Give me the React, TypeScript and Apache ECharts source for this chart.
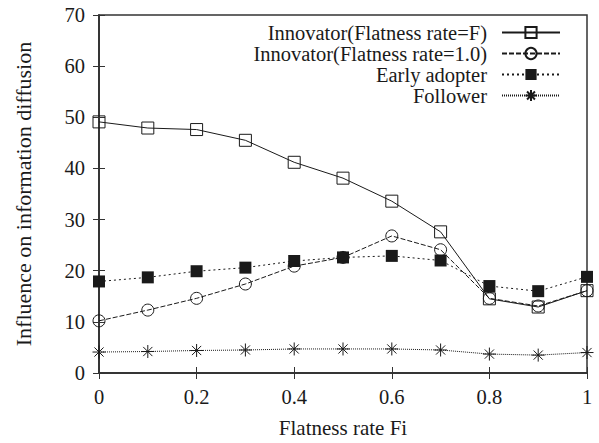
import React, { useEffect, useRef } from "react";
import * as echarts from "echarts";

const xValues = [0, 0.1, 0.2, 0.3, 0.4, 0.5, 0.6, 0.7, 0.8, 0.9, 1.0];
const innovatorF = [49.1, 47.9, 47.6, 45.5, 41.2, 38.1, 33.6, 27.6, 14.5, 12.9, 16.1];
const innovator10 = [10.2, 12.3, 14.6, 17.4, 20.9, 22.6, 26.8, 24.1, 14.6, 13.1, 16.1];
const earlyAdopter = [17.9, 18.7, 19.9, 20.6, 21.9, 22.6, 22.9, 22.0, 17.0, 16.0, 18.8];
const follower = [4.1, 4.2, 4.4, 4.5, 4.7, 4.7, 4.7, 4.5, 3.7, 3.5, 4.0];

const seriesNames = [
  "Innovator(Flatness rate=F)",
  "Innovator(Flatness rate=1.0)",
  "Early adopter",
  "Follower",
];

const FONT = "'Liberation Serif', 'Times New Roman', serif";
const INK = "#1a1a1a";
const ASTERISK = "path://M0,-6L0,6M-6,0L6,0M-4.24,-4.24L4.24,4.24M-4.24,4.24L4.24,-4.24";

function pairs(ys: number[]) {
  return xValues.map((x, i) => [x, ys[i]]);
}

export default function App() {
  const ref = useRef<HTMLDivElement>(null);
  useEffect(() => {
    if (!ref.current) return;
    const chart = echarts.init(ref.current, null, { renderer: "svg" });
    const axisCommon = {
      axisLine: { show: true, lineStyle: { color: "#333", width: 1.5 } },
      axisTick: { show: true, inside: true, length: 6, lineStyle: { color: "#333", width: 1 } },
      splitLine: { show: false },
    };
    const mkLegend = (name: string, top: number) => ({
      show: true,
      data: [name],
      right: 38,
      top,
      padding: 0,
      align: "right" as const,
      orient: "vertical" as const,
      itemWidth: 58,
      itemHeight: 14,
      selectedMode: false,
      formatter: "{t|{name}}{g|}",
      textStyle: {
        fontFamily: FONT,
        fontSize: 20.5,
        color: INK,
        lineHeight: 20,
        rich: {
          t: {
            fontFamily: FONT,
            fontSize: 20.5,
            color: INK,
            lineHeight: 20,
          },
          g: {
            width: 10,
            height: 10,
          },
        },
      },
    });
    chart.setOption({
      animation: false,
      backgroundColor: "#fff",
      textStyle: { fontFamily: FONT },
      grid: {
        left: 99,
        right: 12,
        top: 15,
        bottom: 68,
        show: true,
        borderColor: "#333",
        borderWidth: 1.5,
        backgroundColor: "transparent",
      },
      legend: [
        mkLegend(seriesNames[0], 22),
        mkLegend(seriesNames[1], 43),
        mkLegend(seriesNames[2], 64),
        mkLegend(seriesNames[3], 85),
      ],
      xAxis: [
        {
          type: "value",
          min: 0,
          max: 1,
          interval: 0.2,
          position: "bottom",
          name: "Flatness rate Fi",
          nameLocation: "middle",
          nameGap: 44,
          nameTextStyle: { fontFamily: FONT, fontSize: 21, color: INK },
          axisLabel: { fontFamily: FONT, fontSize: 20.5, color: INK, margin: 13 },
          ...axisCommon,
        },
        {
          type: "value",
          min: 0,
          max: 1,
          interval: 0.2,
          position: "top",
          axisLabel: { show: false },
          ...axisCommon,
        },
      ],
      yAxis: [
        {
          type: "value",
          min: 0,
          max: 70,
          interval: 10,
          position: "left",
          name: "Influence on information diffusion",
          nameLocation: "middle",
          nameGap: 65,
          nameTextStyle: { fontFamily: FONT, fontSize: 22, color: INK },
          axisLabel: { fontFamily: FONT, fontSize: 20.5, color: INK, margin: 14 },
          ...axisCommon,
        },
        {
          type: "value",
          min: 0,
          max: 70,
          interval: 10,
          position: "right",
          axisLabel: { show: false },
          ...axisCommon,
        },
      ],
      series: [
        {
          name: seriesNames[0],
          type: "line",
          data: pairs(innovatorF),
          symbol: "rect",
          symbolSize: 12,
          lineStyle: { color: INK, width: 1, type: "solid" },
          itemStyle: { color: "transparent", borderColor: INK, borderWidth: 1 },
          z: 4,
        },
        {
          name: seriesNames[1],
          type: "line",
          data: pairs(innovator10),
          symbol: "circle",
          symbolSize: 12,
          lineStyle: { color: INK, width: 1, type: [5, 2] },
          itemStyle: { color: "transparent", borderColor: INK, borderWidth: 1 },
          z: 3,
        },
        {
          name: seriesNames[2],
          type: "line",
          data: pairs(earlyAdopter),
          symbol: "rect",
          symbolSize: 12,
          lineStyle: { color: INK, width: 1, type: [2, 3] },
          itemStyle: { color: INK, borderColor: INK, borderWidth: 0 },
          z: 2,
        },
        {
          name: seriesNames[3],
          type: "line",
          data: pairs(follower),
          symbol: ASTERISK,
          symbolSize: 13,
          lineStyle: { color: INK, width: 1, type: [1, 1] },
          itemStyle: { color: "transparent", borderColor: INK, borderWidth: 1 },
          z: 1,
        },
      ],
    });
    return () => chart.dispose();
  }, []);
  return <div ref={ref} style={{ width: 599, height: 443, position: "absolute", left: 0, top: 0 }} />;
}
